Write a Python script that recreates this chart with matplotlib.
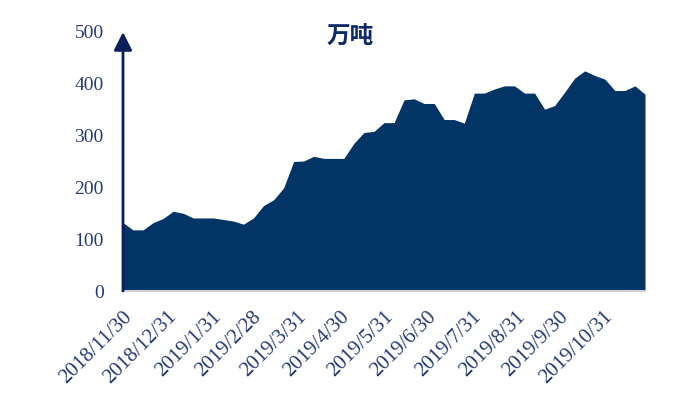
import matplotlib
matplotlib.use("Agg")
import matplotlib.pyplot as plt
import matplotlib.dates as mdates
import pandas as pd

# Weekly dates (Fridays)
dates = pd.date_range("2018-11-30", "2019-11-29", freq="W-FRI")
values = [132, 118, 118, 132, 140, 154, 150, 141, 141, 141,
          138, 135, 129, 141, 165, 176, 199, 250, 251, 260,
          256, 256, 256, 285, 306, 308, 325, 325, 369, 371,
          362, 362, 331, 331, 324, 382, 382, 390, 396, 396,
          382, 382, 351, 358, 384, 411, 425, 416, 409, 387,
          387, 396, 380]
tick_dates = ["2018-11-30", "2018-12-31", "2019-01-31", "2019-02-28",
              "2019-03-31", "2019-04-30", "2019-05-31", "2019-06-30",
              "2019-07-31", "2019-08-31", "2019-09-30", "2019-10-31"]
y_ticks = [0, 100, 200, 300, 400, 500]
title = "万吨"

fill_color = "#023466"
text_color = "#24397a"
axis_color = "#0b1f5c"

fig = plt.figure(figsize=(6.84, 4.16), dpi=100)
ax = fig.add_axes([123/684, 1 - 291/416, (645-123)/684, (291-32)/416])

x = mdates.date2num(dates.to_pydatetime())
ax.fill_between(x, 0, values, color=fill_color, linewidth=0)
ax.set_xlim(x[0], x[-1])
ax.set_ylim(0, 500)

tds = pd.to_datetime(tick_dates)
ax.set_xticks(mdates.date2num(tds.to_pydatetime()))
ax.set_xticklabels([f"{d.year}/{d.month}/{d.day}" for d in tds],
                   rotation=45, ha="right", rotation_mode="anchor",
                   fontsize=15, color=text_color, family="Liberation Serif")
ax.set_yticks(y_ticks)
ax.set_yticklabels([str(v) for v in y_ticks], fontsize=14,
                   color=text_color, family="Liberation Serif")
ax.tick_params(axis="both", length=0)
ax.tick_params(axis="y", pad=14)
ax.tick_params(axis="x", pad=12)

for s in ["top", "right", "left"]:
    ax.spines[s].set_visible(False)
ax.spines["bottom"].set_color("#d0d0d0")
ax.spines["bottom"].set_linewidth(1.5)

# y axis with arrow
ax.annotate("", xy=(0, 1.0), xycoords="axes fraction", xytext=(0, 0),
            textcoords="axes fraction",
            arrowprops=dict(arrowstyle="-|>,head_length=1.1,head_width=0.55",
                            color=axis_color, lw=2, shrinkA=0, shrinkB=0),
            annotation_clip=False)

fig.text(350/684, 1 - 37/416, title, ha="center", va="center",
         fontsize=17, fontweight="bold", color="#0d2a6b",
         family=["Noto Sans CJK SC", "DejaVu Sans"])

fig.savefig("out.png", dpi=100)
